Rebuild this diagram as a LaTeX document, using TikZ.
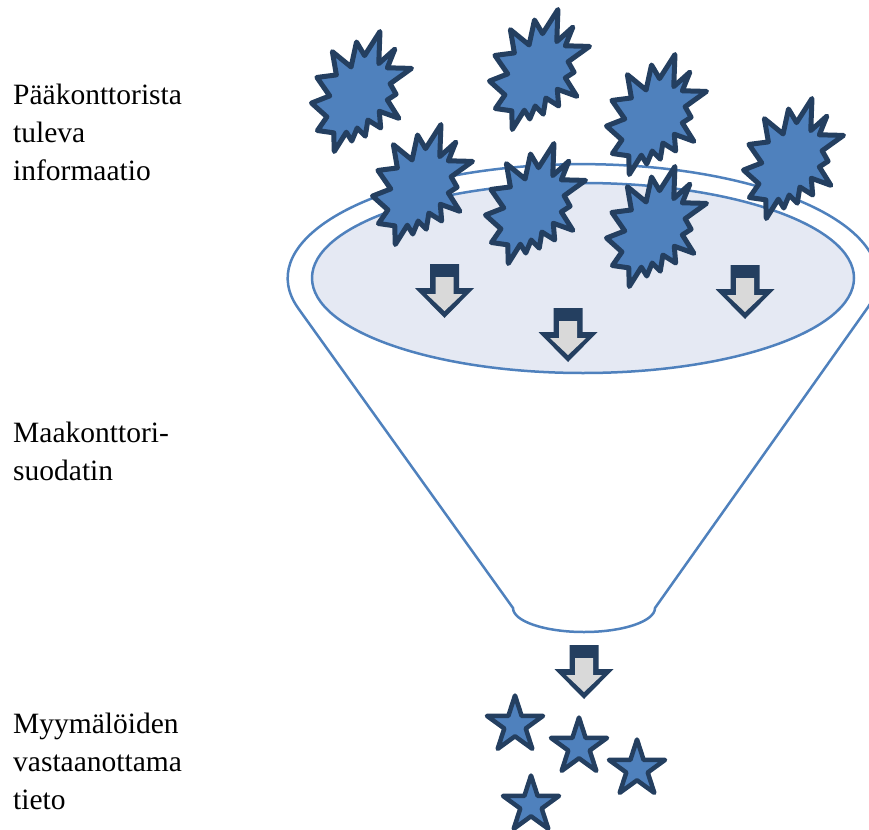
\documentclass[tikz,border=0pt]{standalone}
\usepackage{fontspec}
\setmainfont{Liberation Serif}
\newfontfamily\sidefont{Liberation Serif}
\usetikzlibrary{shapes.geometric}
\definecolor{burstfill}{HTML}{4F81BD}
\definecolor{navy}{HTML}{243F60}
\definecolor{funnelline}{HTML}{4F81BD}
\definecolor{bowl}{RGB}{229,233,243}
\definecolor{arrowgray}{HTML}{D9D9D9}

\begin{document}
\begin{tikzpicture}[x=1pt,y=-1pt,
  sidetext/.style={anchor=base west, inner sep=0pt, font={\sidefont\fontsize{29.5}{38}\selectfont}},
  rim/.style={draw=funnelline, line width=2.5pt},
  burst/.style={fill=burstfill, draw=navy, line width=5pt, line join=round},
  starshape/.style={star, star points=5, star point ratio=2.618, minimum size=59pt,
    inner sep=0pt, fill=burstfill, draw=navy, line width=4.5pt, line join=round},
]
\useasboundingbox (0,0) rectangle (869,829);

% funnel body with the outer rim
\draw[rim, fill=white] (298,308)
  arc[start angle=195.17, end angle=-15.17, x radius=295pt, y radius=114pt]
  -- (655,608)
  arc[start angle=0, end angle=-180, x radius=71pt, y radius=24pt]
  -- cycle;
% inner bowl
\draw[rim, fill=bowl] (583,278) ellipse [x radius=271pt, y radius=95pt];

% block arrows pointing down
\foreach \cx/\ty in {444.5/264, 568/308, 745/265, 584/645} {
  \fill[navy] (\cx-14.5,\ty) -- (\cx+14.5,\ty) -- (\cx+14.5,\ty+24) -- (\cx+29.5,\ty+24)
    -- (\cx,\ty+54) -- (\cx-29.5,\ty+24) -- (\cx-14.5,\ty+24) -- cycle;
  \fill[arrowgray] (\cx-9,\ty+13) -- (\cx+9,\ty+13) -- (\cx+9,\ty+30) -- (\cx+18,\ty+30)
    -- (\cx,\ty+47) -- (\cx-18,\ty+30) -- (\cx-9,\ty+30) -- cycle;
}

% explosion bursts
\foreach \bx/\by in {310/30, 488/8, 605/53, 742/97, 371/123, 484/142, 605/165} {
  \begin{scope}[shift={(\bx+1.5,\by+1.5)}, xscale=100/216, yscale=120/216]
    \draw[burst] (114.62,43.42) -- (147.90,0) -- (145.25,57.77) -- (180.07,31.72)
      -- (163.80,65.32) -- (216,66.45) -- (169.85,94.02) -- (182.70,112.90)
      -- (163.80,123.10) -- (188.77,156.32) -- (146.40,143.50) -- (149.42,173.70)
      -- (121.80,159.35) -- (116.12,188.42) -- (98.72,173.70) -- (87.00,197.12)
      -- (75.27,181.25) -- (49.17,216) -- (48.05,182.40) -- (12.85,178.25)
      -- (33.30,153.70) -- (0,128.77) -- (39.35,115.92) -- (11.72,82.70)
      -- (53.72,78.17) -- (45.02,36.25) -- (85.50,63.82) -- (97.22,18.87) -- cycle;
  \end{scope}
}

% stars below the funnel
\node[starshape] (s1) at (515,725) {};
\node[starshape] (s2) at (579,747) {};
\node[starshape] (s3) at (637,769) {};
\node[starshape] (s4) at (531,805) {};

% side labels
\node[sidetext] (t1) at (13,105) {Pääkonttorista};
\node[sidetext] (t2) at (13,143) {tuleva};
\node[sidetext] (t3) at (13,181) {informaatio};
\node[sidetext] (t4) at (13,442) {Maakonttori-};
\node[sidetext] (t5) at (13,480) {suodatin};
\node[sidetext] (t6) at (13,733) {Myymälöiden};
\node[sidetext] (t7) at (13,771) {vastaanottama};
\node[sidetext] (t8) at (13,809) {tieto};
\end{tikzpicture}
\end{document}
